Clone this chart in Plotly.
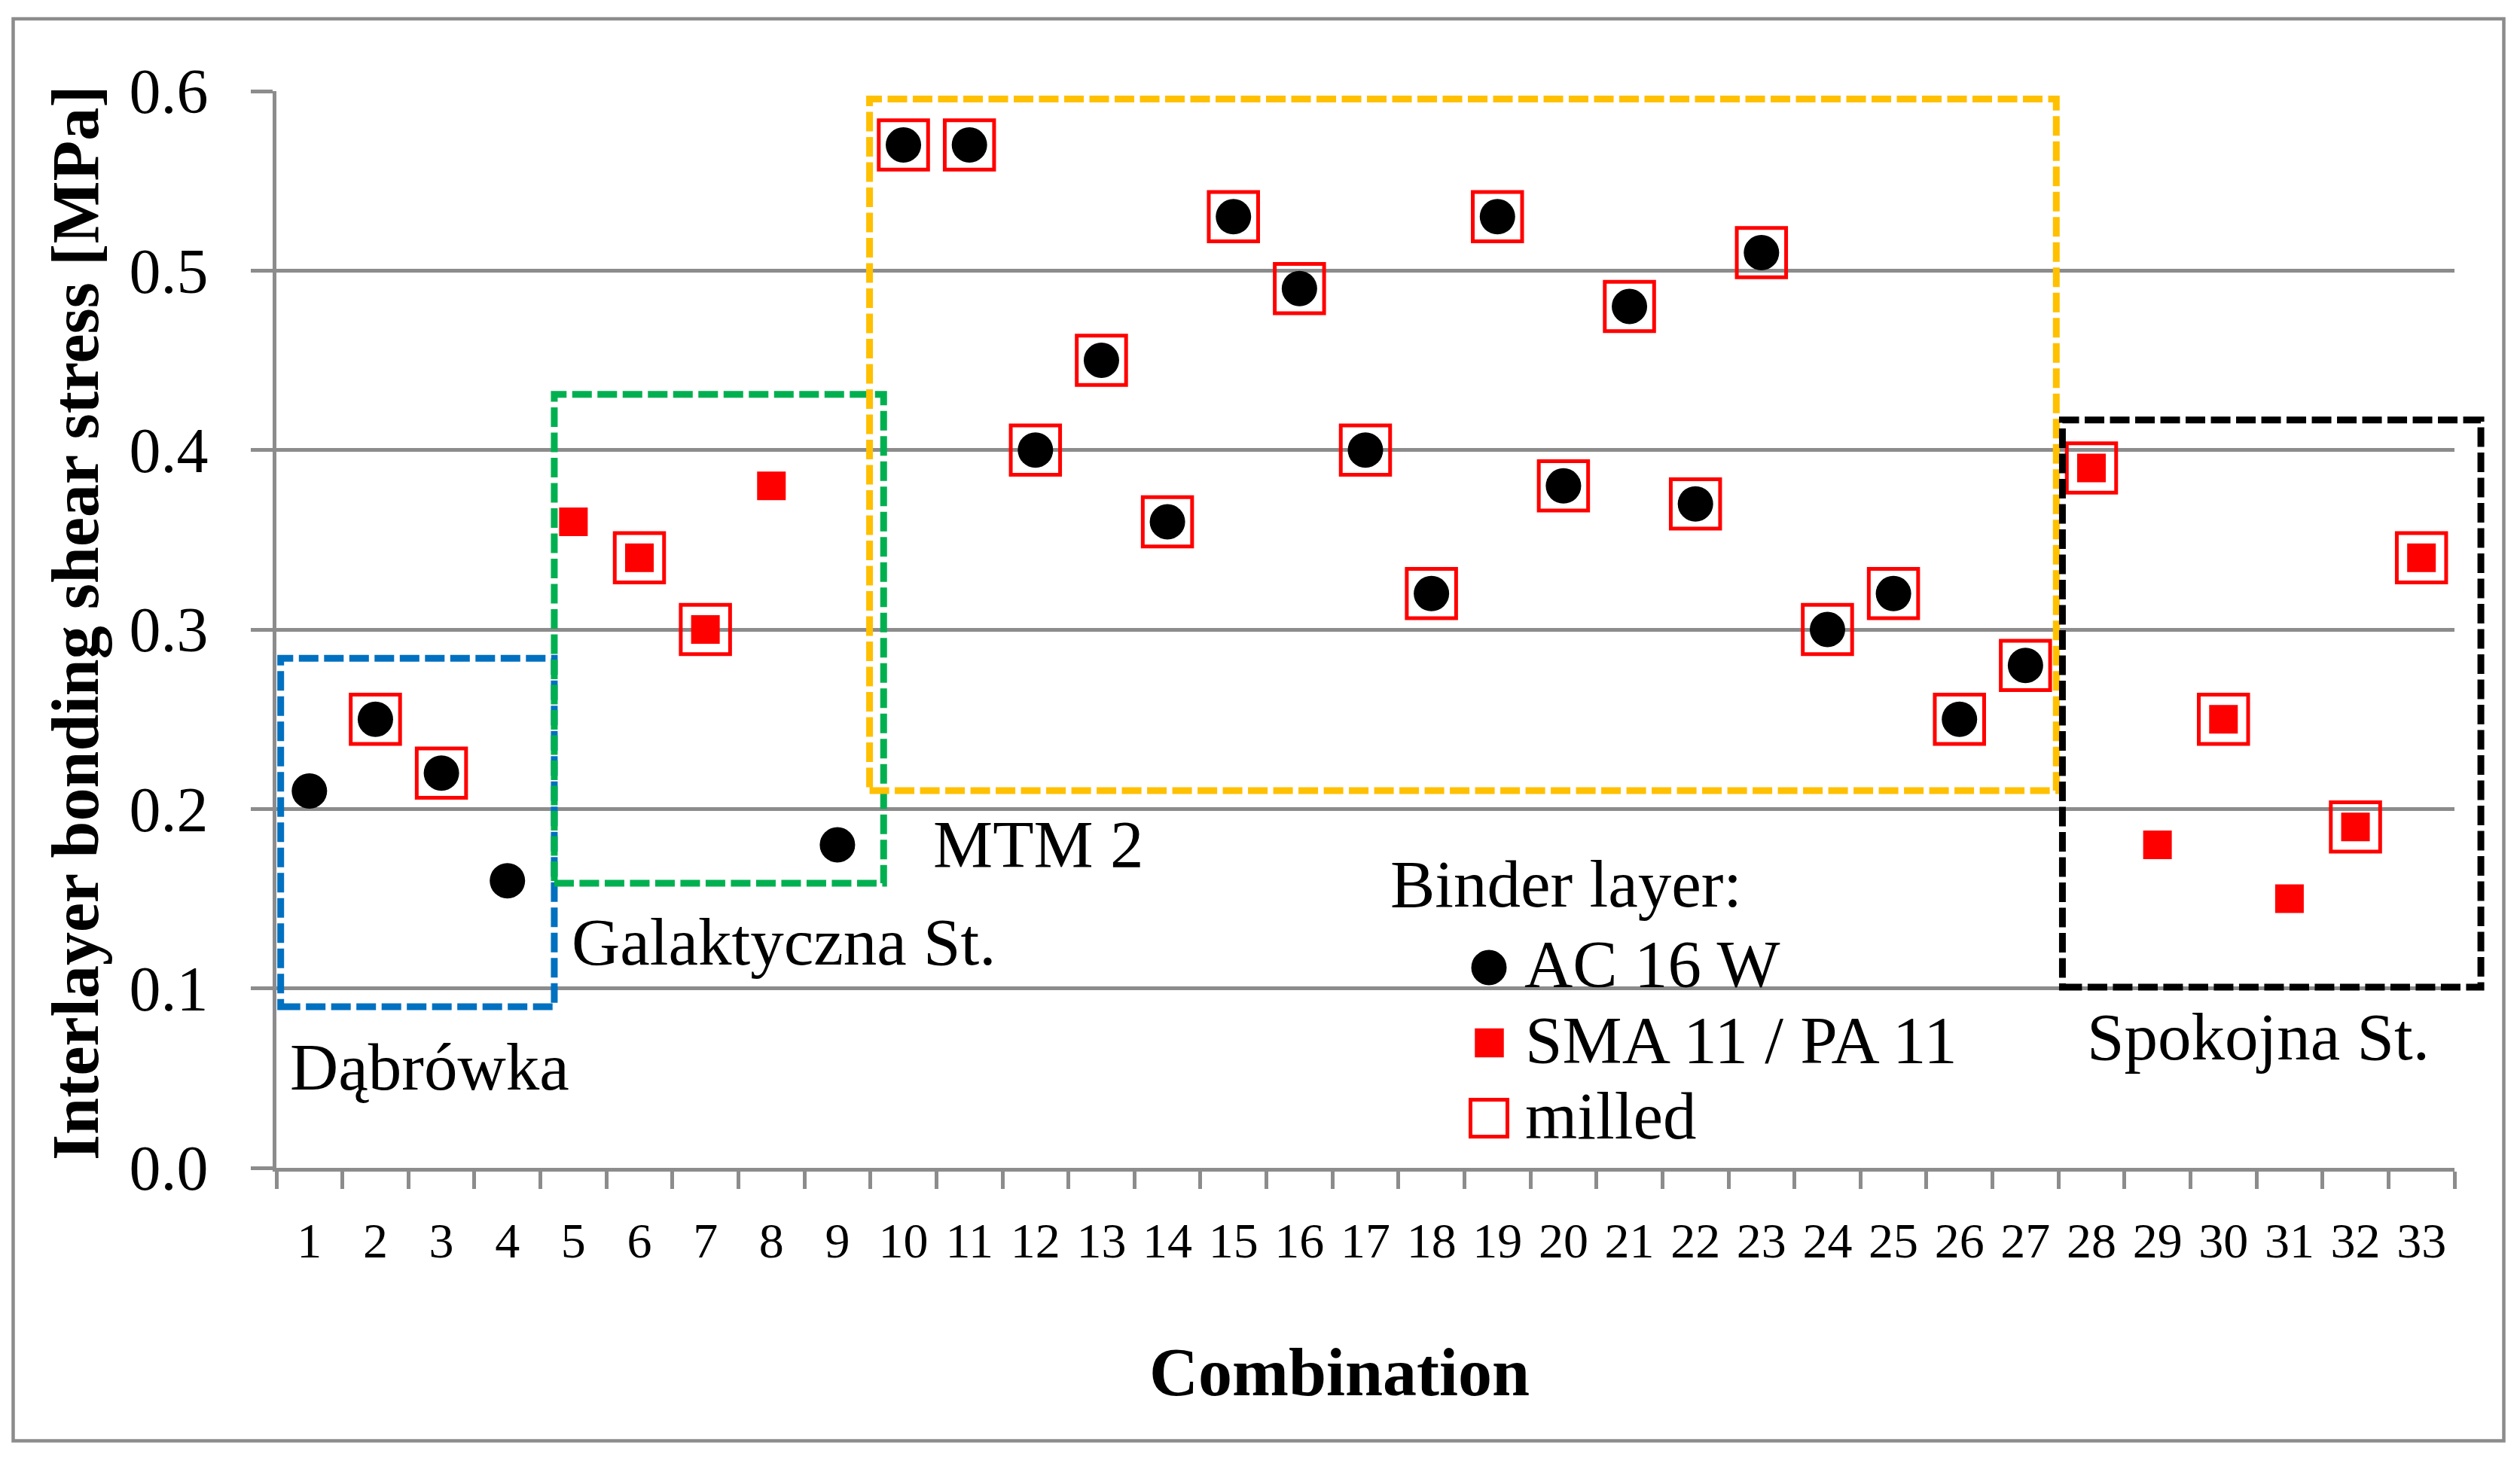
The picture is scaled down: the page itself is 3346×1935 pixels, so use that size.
import plotly.graph_objects as go

# ---------------- data ----------------
combination = [str(i) for i in range(1, 34)]
shear_stress = [0.21, 0.25, 0.22, 0.16, 0.36, 0.34, 0.30, 0.38, 0.18,
                0.57, 0.57, 0.40, 0.45, 0.36, 0.53, 0.49, 0.40, 0.32,
                0.53, 0.38, 0.48, 0.37, 0.51, 0.30, 0.32, 0.25, 0.28,
                0.39, 0.18, 0.25, 0.15, 0.19, 0.34]
binder = (["AC"] * 4 + ["SMA"] * 4 + ["AC"] * 19 + ["SMA"] * 6)
milled = [0, 1, 1, 0, 0, 1, 1, 0, 0,
          1, 1, 1, 1, 1, 1, 1, 1, 1,
          1, 1, 1, 1, 1, 1, 1, 1, 1,
          1, 0, 1, 0, 1, 1]
y_ticks = [0.0, 0.1, 0.2, 0.3, 0.4, 0.5, 0.6]

# site groups in category / MPa units
group_names = ["Dąbrówka", "Galaktyczna St.", "MTM 2", "Spokojna St."]
group_x0 = [0.565, 4.71, 9.487, 27.56]
group_x1 = [4.71, 9.70, 27.467, 33.90]
group_y0 = [0.0898, 0.1586, 0.2102, 0.1007]
group_y1 = [0.2839, 0.431, 0.5956, 0.4168]
group_colors = ["#0070C0", "#00B050", "#FFC000", "#000000"]

# ---------------- layout geometry ----------------
W, H = 3346, 1935
L, R, T, B = 367, 3259, 121, 1551
GRAY = "#8C8C8C"
FONT = "Liberation Serif"
N = len(combination)
YMAX = 0.6
TXT = 89


def fx(px):
    return (px - L) / (R - L)


def fy(py):
    return (B - py) / (B - T)


def dx(x):  # category position (1-based) -> paper
    return (x - 0.5) / N


def dy(y):
    return y / YMAX


ac_x = [c for c, b in zip(combination, binder) if b == "AC"]
ac_y = [v for v, b in zip(shear_stress, binder) if b == "AC"]
sma_x = [c for c, b in zip(combination, binder) if b == "SMA"]
sma_y = [v for v, b in zip(shear_stress, binder) if b == "SMA"]
mil_x = [c for c, m in zip(combination, milled) if m]
mil_y = [v for v, m in zip(shear_stress, milled) if m]

fig = go.Figure()
fig.add_trace(go.Scatter(x=ac_x, y=ac_y, mode="markers", name="AC 16 W",
                         marker=dict(symbol="circle", size=47, color="#000000",
                                     line=dict(width=0))))
fig.add_trace(go.Scatter(x=sma_x, y=sma_y, mode="markers", name="SMA 11 / PA 11",
                         marker=dict(symbol="square", size=38, color="#FF0000",
                                     line=dict(width=0))))
fig.add_trace(go.Scatter(x=mil_x, y=mil_y, mode="markers", name="milled",
                         marker=dict(symbol="square-open", size=65.5, color="#FF0000",
                                     line=dict(width=5, color="#FF0000"))))

shapes = []
# outer frame
shapes.append(dict(type="rect", xref="paper", yref="paper",
                   x0=fx(17.5), x1=fx(3324.5), y0=fy(1913.5), y1=fy(25),
                   line=dict(color=GRAY, width=4.5), fillcolor="rgba(0,0,0,0)", layer="below"))
# legend background (hides gridline)
shapes.append(dict(type="rect", xref="paper", yref="paper",
                   x0=fx(1907), x1=fx(2640), y0=fy(1535), y1=fy(1100),
                   line=dict(width=0), fillcolor="white", layer="between"))
# group boxes
for x0, x1, y0, y1, col in zip(group_x0, group_x1, group_y0, group_y1, group_colors):
    shapes.append(dict(type="rect", xref="paper", yref="paper",
                       x0=dx(x0), x1=dx(x1), y0=dy(y0), y1=dy(y1),
                       line=dict(color=col, width=9, dash="26px,7.5px"),
                       fillcolor="rgba(0,0,0,0)", layer="above"))
# legend symbols
shapes.append(dict(type="circle", xref="paper", yref="paper",
                   xsizemode="pixel", ysizemode="pixel",
                   xanchor=fx(1977), yanchor=fy(1285),
                   x0=-23.5, x1=23.5, y0=-23.5, y1=23.5,
                   fillcolor="#000000", line=dict(width=0)))
shapes.append(dict(type="rect", xref="paper", yref="paper",
                   xsizemode="pixel", ysizemode="pixel",
                   xanchor=fx(1977.5), yanchor=fy(1385),
                   x0=-19.25, x1=19.25, y0=-19.25, y1=19.25,
                   fillcolor="#FF0000", line=dict(width=0)))
shapes.append(dict(type="rect", xref="paper", yref="paper",
                   xsizemode="pixel", ysizemode="pixel",
                   xanchor=fx(1977), yanchor=fy(1485),
                   x0=-24.5, x1=24.5, y0=-24.5, y1=24.5,
                   fillcolor="rgba(0,0,0,0)", line=dict(width=5, color="#FF0000")))

annotations = []


def txt(text, px, py, size=TXT, xanchor="left", angle=0):
    annotations.append(dict(text=text, xref="paper", yref="paper",
                            x=fx(px), y=fy(py), xanchor=xanchor, yanchor="middle",
                            showarrow=False, textangle=angle, borderpad=0,
                            font=dict(family=FONT, size=size, color="#000000")))


# group labels
label_px = [384, 758, 1238, 2770]
label_py = [1416.5, 1251, 1120.5, 1377]
for name, px, py in zip(group_names, label_px, label_py):
    txt(name, px, py)

# legend texts
txt("Binder layer:", 1845, 1174)
txt("AC 16 W", 2023, 1280)
txt("SMA 11 / PA 11", 2024, 1381)
txt("milled", 2024, 1481.5)

# axis titles
txt("<b>Combination</b>", 1778, 1823, size=90, xanchor="center")
txt("<b>Interlayer bonding shear stress [MPa]</b>", 100, 827, size=88,
    xanchor="center", angle=-90)

fig.update_layout(
    width=W, height=H,
    margin=dict(l=L, r=W - R, t=T, b=H - B, autoexpand=False),
    paper_bgcolor="white", plot_bgcolor="white",
    showlegend=False,
    font=dict(family=FONT, color="#000000"),
    shapes=shapes, annotations=annotations,
    xaxis=dict(type="category", categoryorder="array", categoryarray=combination,
               range=[-0.5, N - 0.5], tickson="boundaries",
               ticks="outside", ticklen=23, tickwidth=4.5, tickcolor=GRAY,
               showline=True, linecolor=GRAY, linewidth=4.5,
               showgrid=False, zeroline=False,
               tickfont=dict(family=FONT, size=66, color="#000000"),
               ticklabelstandoff=35),
    yaxis=dict(range=[0, YMAX], tickvals=y_ticks,
               ticktext=[f"{v:.1f}" for v in y_ticks],
               ticks="outside", ticklen=29, tickwidth=4.5, tickcolor=GRAY,
               showline=True, linecolor=GRAY, linewidth=4.5,
               showgrid=True, gridcolor=GRAY, gridwidth=4.5, zeroline=False,
               tickfont=dict(family=FONT, size=84, color="#000000"),
               ticklabelstandoff=40),
)

fig.write_html(
    "out.html",
    config={"displayModeBar": False},
    post_script="document.body.style.margin='0';document.body.style.padding='0';"
                "document.body.style.overflow='hidden';",
)
